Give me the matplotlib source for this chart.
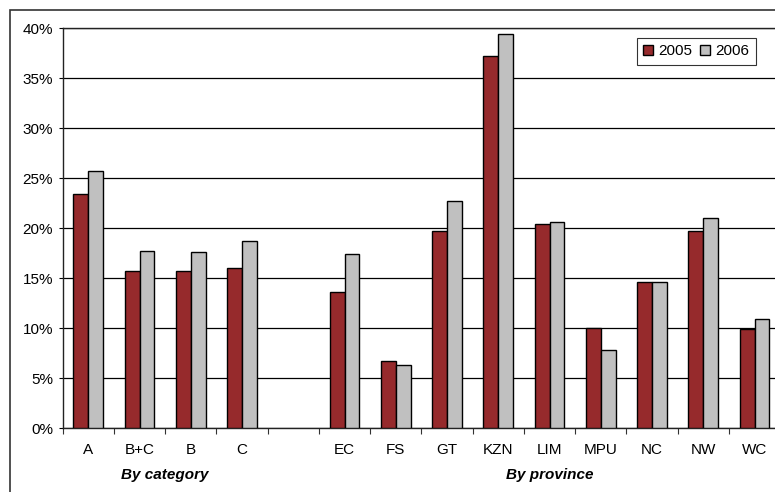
import matplotlib.pyplot as plt
import numpy as np
from matplotlib.patches import Rectangle

plt.rcParams['font.family'] = ['Liberation Sans', 'DejaVu Sans']

# data
cats = ['A', 'B+C', 'B', 'C', '', 'EC', 'FS', 'GT', 'KZN', 'LIM', 'MPU', 'NC', 'NW', 'WC']
v2005 = [23.4, 15.7, 15.7, 16.0, np.nan, 13.6, 6.7, 19.7, 37.2, 20.4, 10.0, 14.6, 19.7, 9.9]
v2006 = [25.7, 17.7, 17.6, 18.7, np.nan, 17.4, 6.3, 22.7, 39.4, 20.6, 7.8, 14.6, 21.0, 10.9]
yticks = [0, 5, 10, 15, 20, 25, 30, 35, 40]
groups = ['By category', 'By province']

fs = 11
fig = plt.figure(figsize=(7.75, 4.92), dpi=100)
W, H = 775, 492
ax = fig.add_axes([62.7 / W, 1 - 428 / H, (780.2 - 62.7) / W, 400 / H])

x = np.arange(len(cats))
bw = 0.29
ax.bar(x - bw / 2, v2005, bw, color='#962a2c', edgecolor='black', linewidth=1, label='2005', zorder=3)
ax.bar(x + bw / 2, v2006, bw, color='#c0c0c0', edgecolor='black', linewidth=1, label='2006', zorder=3)

ax.set_xlim(-0.5, len(cats) - 0.5)
ax.set_ylim(0, 40)
ax.set_yticks(yticks)
ax.set_yticklabels([f'{t}%' for t in yticks], fontsize=fs)
ax.yaxis.grid(True, color='black', linewidth=0.9, zorder=0)
ax.set_axisbelow(True)

ax.set_xticks(np.arange(len(cats) + 1) - 0.5)
ax.set_xticklabels([])
ax.set_xticks(x, minor=True)
ax.set_xticklabels(cats, minor=True, fontsize=fs)
ax.tick_params(axis='x', which='major', direction='out', length=4, width=0.8, color='#333333')
ax.tick_params(axis='x', which='minor', length=0, pad=11)
ax.tick_params(axis='y', direction='out', length=3, width=0.8, pad=4)

for s in ['top', 'left', 'bottom']:
    ax.spines[s].set_color('#222222')
    ax.spines[s].set_linewidth(1)
ax.spines['right'].set_visible(False)

# group labels
ax.text(np.mean(x[0:4]), -4.75, groups[0], ha='center', va='center',
        fontsize=fs, fontweight='bold', fontstyle='italic')
ax.text(np.mean(x[5:14]), -4.75, groups[1], ha='center', va='center',
        fontsize=fs, fontweight='bold', fontstyle='italic')

leg = ax.legend(loc='upper right', bbox_to_anchor=((755.7 - 62.7) / (780.2 - 62.7), (428 - 38.3) / 400),
                ncol=2, fontsize=fs, frameon=True, fancybox=False, handlelength=0.65,
                handleheight=0.65, handletextpad=0.35, columnspacing=0.5, borderpad=0.4,
                borderaxespad=0)
leg.get_frame().set_edgecolor('black')
leg.get_frame().set_linewidth(0.8)

# outer chart border (cropped on right and bottom)
fig.patches.append(Rectangle((10 / W, -0.05), 1.1, 1 - 10 / H + 0.05, transform=fig.transFigure,
                             fill=False, edgecolor='#333333', linewidth=1.2))

fig.savefig('out.png', dpi=100)
